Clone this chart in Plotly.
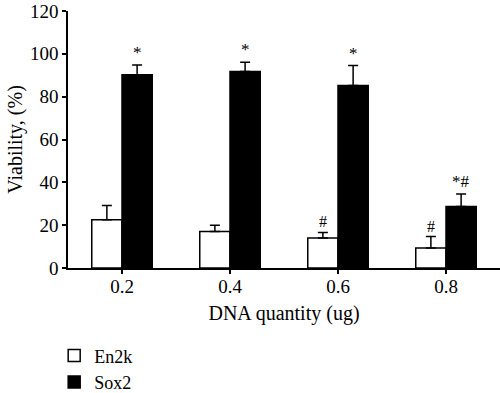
import plotly.graph_objects as go

categories = ["0.2", "0.4", "0.6", "0.8"]
en2k_values = [22.5, 17.0, 14.0, 9.3]
en2k_errors = [6.7, 3.0, 2.6, 5.4]
sox2_values = [90.2, 91.8, 85.2, 28.7]
sox2_errors = [4.6, 4.3, 9.3, 5.8]
en2k_marks = ["", "", "#", "#"]
sox2_marks = ["*", "*", "*", "*#"]
y_ticks = [0, 20, 40, 60, 80, 100, 120]

FONT = "Liberation Serif"

fig = go.Figure()
fig.add_trace(go.Bar(
    name="En2k", x=categories, y=en2k_values,
    marker=dict(color="white", line=dict(color="black", width=1.5)),
    error_y=dict(type="data", array=en2k_errors, arrayminus=[0]*4, symmetric=False,
                 color="black", thickness=1.5, width=5),
))
fig.add_trace(go.Bar(
    name="Sox2", x=categories, y=sox2_values,
    marker=dict(color="black", line=dict(color="black", width=1.5)),
    error_y=dict(type="data", array=sox2_errors, arrayminus=[0]*4, symmetric=False,
                 color="black", thickness=1.5, width=5),
))

for i, (v, e, m) in enumerate(zip(en2k_values, en2k_errors, en2k_marks)):
    if m:
        fig.add_annotation(x=i, y=v + e, text=m, showarrow=False, xshift=-15,
                           yanchor="bottom", yshift=0, font=dict(family=FONT, size=16, color="black"))
for i, (v, e, m) in enumerate(zip(sox2_values, sox2_errors, sox2_marks)):
    if m:
        fig.add_annotation(x=i, y=v + e, text=m, showarrow=False, xshift=15,
                           yanchor="bottom", yshift=1, font=dict(family=FONT, size=17, color="black"))

fig.update_layout(
    width=500, height=393,
    margin=dict(l=68, r=0, t=11, b=125, autoexpand=False),
    paper_bgcolor="white", plot_bgcolor="white",
    barmode="group", bargap=0.44, bargroupgap=0,
    font=dict(family=FONT, size=19, color="black"),
    showlegend=True,
    legend=dict(x=-0.032, y=-0.27, xanchor="left", yanchor="top",
                font=dict(family=FONT, size=18, color="black"),
                itemwidth=30),
    xaxis=dict(range=[-0.5, 3.5], showline=True, linecolor="black", linewidth=1.5,
               ticks="outside", ticklen=4, tickwidth=1.5, tickcolor="black", automargin=False,
               ticklabelstandoff=-4,
               title=dict(text="DNA quantity (ug)", font=dict(family=FONT, size=20), standoff=10),
               showgrid=False, zeroline=False),
    yaxis=dict(range=[0, 120], tickvals=y_ticks, showline=True, linecolor="black", linewidth=1.5,
               ticks="outside", ticklen=4, tickwidth=1.5, tickcolor="black", automargin=False,
               ticklabeloverflow="allow",
               title=dict(text="Viability, (%)", font=dict(family=FONT, size=20), standoff=2),
               showgrid=False, zeroline=False),
)

fig.write_html("out.html", config={"displayModeBar": False},
               post_script="document.body.style.margin='0px';")
